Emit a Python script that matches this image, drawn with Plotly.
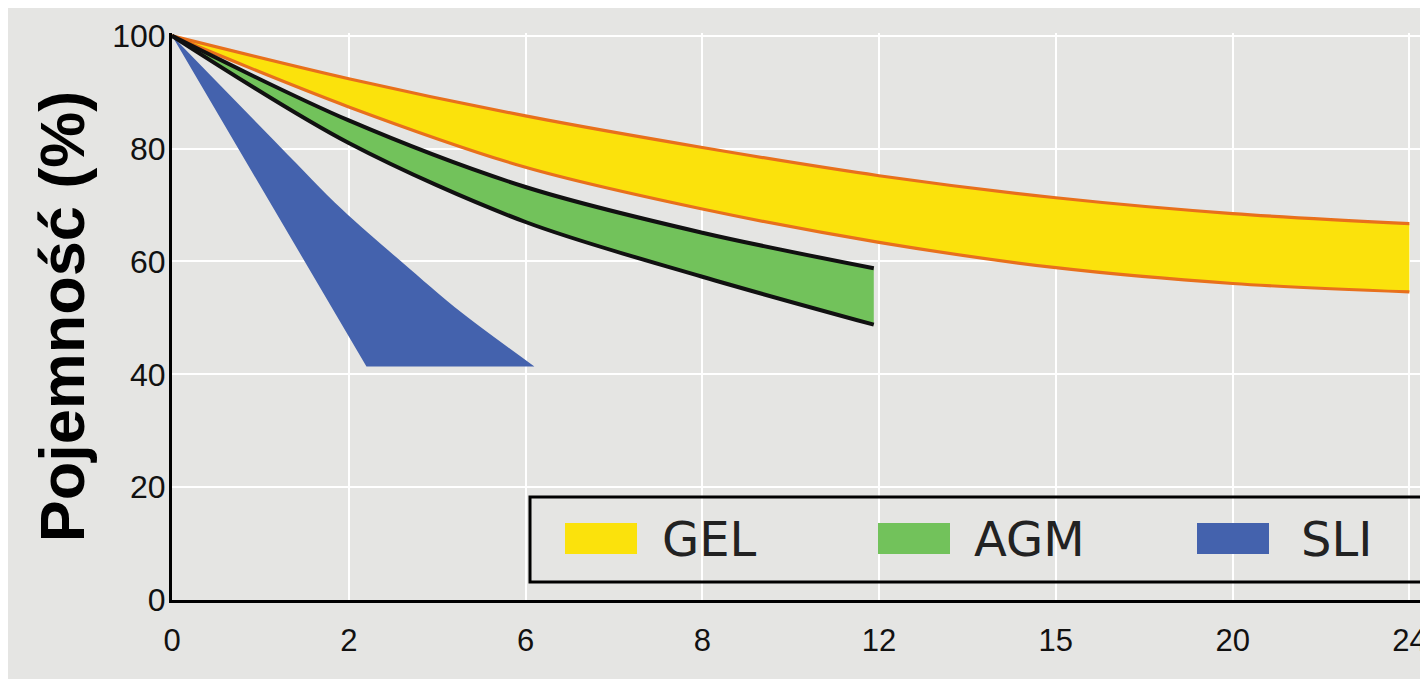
import plotly.graph_objects as go

# ---------------- data ----------------
TICK_LABELS = ["0", "2", "6", "8", "12", "15", "20", "24"]
TICK_POS = [0, 1, 2, 3, 4, 5, 6, 7]

GEL_X = [0, 1, 2, 3, 4, 5, 6, 7]
GEL_UPPER = [100, 92.4, 85.8, 80.2, 75.2, 71.3, 68.5, 66.7]
GEL_LOWER = [100, 87.4, 76.7, 69.3, 63.4, 58.9, 56.1, 54.6]

AGM_X = [0, 1, 2, 3, 3.97]
AGM_UPPER = [100, 85.0, 73.2, 65.1, 58.8]
AGM_LOWER = [100, 81.0, 67.0, 57.3, 48.8]

# SLI wedge: straight left edge, slightly bent right edge
SLI_LEFT_X = [0, 1.10, 2.05]
SLI_LEFT_Y = [100, 41.4, 41.4]
SLI_RIGHT_X = [0, 0.61, 0.96, 1.30, 1.64, 2.05]
SLI_RIGHT_Y = [100, 80.4, 69.3, 59.9, 50.9, 41.4]

SERIES = ["GEL", "AGM", "SLI"]
FILL_COLORS = ["#fbe20c", "#72c25b", "#4462ad"]
EDGE_COLORS = ["#e8701c", "#111111", None]

Y_TICKS = [0, 20, 40, 60, 80, 100]

# ---------------- layout constants ----------------
# page is shown with an 8px body margin, so figure coords = page coords - 8
OFF = 8
WIDTH, HEIGHT = 1420, 671
ML, MR, MT, MB = 164, 8, 25, 79
PW = WIDTH - ML - MR
PH = HEIGHT - MT - MB
BG = "#e5e5e3"


def px_x(p):
    """page pixel x -> paper fraction"""
    return (p - OFF - ML) / PW


def px_y(p):
    """page pixel y -> paper fraction"""
    return (HEIGHT - MB - (p - OFF)) / PH


fig = go.Figure()
SM = 0.9

# fills
fig.add_trace(go.Scatter(x=GEL_X, y=GEL_LOWER, mode="lines",
                         line=dict(width=0, shape="spline", smoothing=SM),
                         showlegend=False, hoverinfo="skip"))
fig.add_trace(go.Scatter(x=GEL_X, y=GEL_UPPER, mode="lines",
                         line=dict(width=0, shape="spline", smoothing=SM),
                         fill="tonexty", fillcolor=FILL_COLORS[0],
                         name=SERIES[0], showlegend=False))
fig.add_trace(go.Scatter(x=AGM_X, y=AGM_LOWER, mode="lines",
                         line=dict(width=0, shape="spline", smoothing=SM),
                         showlegend=False, hoverinfo="skip"))
fig.add_trace(go.Scatter(x=AGM_X, y=AGM_UPPER, mode="lines",
                         line=dict(width=0, shape="spline", smoothing=SM),
                         fill="tonexty", fillcolor=FILL_COLORS[1],
                         name=SERIES[1], showlegend=False))
fig.add_trace(go.Scatter(x=SLI_LEFT_X, y=SLI_LEFT_Y, mode="lines",
                         line=dict(width=0),
                         showlegend=False, hoverinfo="skip"))
fig.add_trace(go.Scatter(x=SLI_RIGHT_X, y=SLI_RIGHT_Y, mode="lines",
                         line=dict(width=0, shape="spline", smoothing=SM),
                         fill="tonexty", fillcolor=FILL_COLORS[2],
                         name=SERIES[2], showlegend=False))

# edge lines
for ys in (GEL_UPPER, GEL_LOWER):
    fig.add_trace(go.Scatter(x=GEL_X, y=ys, mode="lines",
                             line=dict(width=3.2, color=EDGE_COLORS[0],
                                       shape="spline", smoothing=SM),
                             showlegend=False, hoverinfo="skip"))
for ys in (AGM_UPPER, AGM_LOWER):
    fig.add_trace(go.Scatter(x=AGM_X, y=ys, mode="lines",
                             line=dict(width=4, color=EDGE_COLORS[1],
                                       shape="spline", smoothing=SM),
                             showlegend=False, hoverinfo="skip"))

shapes = [
    # legend box
    dict(type="rect", xref="paper", yref="paper",
         x0=px_x(530), x1=px_x(1424), y0=px_y(582), y1=px_y(497),
         line=dict(color="#000000", width=3), fillcolor="rgba(0,0,0,0)"),
]
annotations = []
swatch_x = [565, 878, 1197]
text_x = [660, 972, 1299]
for i, name in enumerate(SERIES):
    shapes.append(dict(type="rect", xref="paper", yref="paper",
                       x0=px_x(swatch_x[i]), x1=px_x(swatch_x[i] + 72),
                       y0=px_y(554), y1=px_y(523),
                       fillcolor=FILL_COLORS[i], line=dict(width=0)))
    annotations.append(dict(xref="paper", yref="paper", x=px_x(text_x[i]), y=px_y(539),
                            xanchor="left", yanchor="middle", showarrow=False,
                            text=name,
                            font=dict(family="DejaVu Sans", size=48, color="#222222")))

fig.update_layout(
    width=WIDTH, height=HEIGHT,
    margin=dict(l=ML, r=MR, t=MT, b=MB, autoexpand=False),
    paper_bgcolor=BG,
    plot_bgcolor=BG,
    shapes=shapes,
    annotations=annotations,
    showlegend=False,
)

fig.update_xaxes(
    range=[0, 7.06], automargin=False,
    tickvals=TICK_POS, ticktext=TICK_LABELS,
    showgrid=True, gridcolor="#ffffff", gridwidth=2,
    showline=True, linecolor="#000000", linewidth=3,
    zeroline=False, ticks="", ticklabelstandoff=11,
    ticklabeloverflow="allow",
    tickfont=dict(family="Liberation Sans", size=31, color="#111111"),
)
fig.update_yaxes(
    range=[0, 100.5], automargin=False,
    tickvals=Y_TICKS,
    showgrid=True, gridcolor="#ffffff", gridwidth=2,
    showline=True, linecolor="#000000", linewidth=3,
    zeroline=False, ticks="", ticklabelstandoff=-3,
    tickfont=dict(family="Liberation Sans", size=32, color="#111111"),
    title=dict(text="<b>Pojemność (%)</b>", standoff=8,
               font=dict(family="Liberation Sans", size=63, color="#000000")),
)

fig.write_html("out.html")
